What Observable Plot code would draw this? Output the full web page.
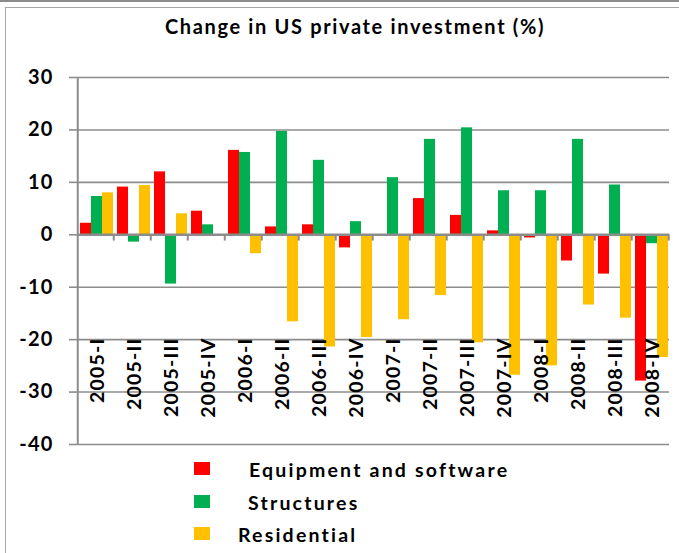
<!DOCTYPE html>
<html>
<head>
<meta charset="utf-8">
<script src="https://cdn.jsdelivr.net/npm/d3@7"></script>
<script src="https://cdn.jsdelivr.net/npm/@observablehq/plot@0.6"></script>
<style>
  html, body { margin: 0; padding: 0; background: #fff; }
  body { width: 679px; height: 553px; position: relative; overflow: hidden; font-family: Lato, "Open Sans", sans-serif; }
  #topbar { position: absolute; left: 0; top: 0; width: 679px; height: 2px; background: #8c8c8c; }
  #box { position: absolute; left: 5px; top: 7px; width: 720px; height: 600px; border: 1.5px solid #a6a6a6; }
  #title { position: absolute; left: 0; width: 710px; top: 14px; text-align: center; font-weight: bold; font-size: 20px; letter-spacing: 1.65px; color: #000; }
  #chart { position: absolute; left: 0; top: 60px; }
  .leg { position: absolute; font-weight: bold; font-size: 19.5px; letter-spacing: 2.2px; color: #000; line-height: 1; }
  .sw { position: absolute; width: 16px; height: 13px; }
</style>
</head>
<body>
<div id="topbar"></div>
<div id="box"></div>
<div id="title">Change in US private investment (%)</div>
<div id="chart"></div>
<div id="legend"></div>
<script>
const quarters = ["2005-I","2005-II","2005-III","2005-IV","2006-I","2006-II","2006-III","2006-IV",
                  "2007-I","2007-II","2007-III","2007-IV","2008-I","2008-II","2008-III","2008-IV"];
const seriesNames = ["Equipment and software", "Structures", "Residential"];
const equipment   = [2.2, 9.1, 12.0, 4.5, 16.1, 1.5, 1.9, -2.5, 0, 6.9, 3.7, 0.75, -0.6, -5.0, -7.5, -27.9];
const structures  = [7.3, -1.4, -9.4, 1.9, 15.7, 19.7, 14.2, 2.5, 10.9, 18.2, 20.4, 8.4, 8.4, 18.2, 9.5, -1.7];
const residential = [8.0, 9.4, 4.0, 0, -3.6, -16.6, -21.4, -19.6, -16.2, -11.6, -20.6, -26.8, -25.0, -13.4, -15.9, -23.4];
const yTicks = [-40, -30, -20, -10, 0, 10, 20, 30];
const colors = ["#FF0000", "#00B050", "#FFC000"];

const seriesValues = [equipment, structures, residential];
const rows = [];
quarters.forEach((q, i) => {
  seriesNames.forEach((s, j) => rows.push({quarter: q, series: s, value: seriesValues[j][i]}));
});

const grid = "#8c8c8c";
const chart = Plot.plot({
  width: 679,
  height: 390,
  marginLeft: 77,
  marginRight: 10,
  marginTop: 17,
  marginBottom: 6,
  style: {fontFamily: "Lato, 'Open Sans', sans-serif", background: "transparent", overflow: "visible"},
  fx: {domain: quarters, padding: 0, axis: null},
  x: {domain: seriesNames, padding: 0, insetLeft: 2.5, axis: null},
  y: {domain: [-40, 30], axis: null},
  color: {domain: seriesNames, range: colors},
  marks: [
    Plot.ruleY(yTicks, {stroke: grid, strokeWidth: 1.6}),
    Plot.barY(rows, {fx: "quarter", x: "series", y: "value", fill: "series"}),
    Plot.ruleY([0], {stroke: grid, strokeWidth: 2.6}),
    // small category separator ticks under the zero line
    Plot.ruleX(quarters, {fx: d => d, x: () => seriesNames[2], y1: 0, y2: -1.2, dx: 5.75, stroke: grid, strokeWidth: 2}),
    // vertical value axis line
    Plot.ruleX([quarters[0]], {fx: d => d, x: () => seriesNames[0], y1: -40, y2: 30, dx: -8.25, stroke: grid, strokeWidth: 2}),
    Plot.axisY(yTicks, {anchor: "left", tickSize: 8, tickPadding: 16, fontSize: 20, fontWeight: "bold",
      stroke: grid, strokeWidth: 1.6, fill: "#000", label: null, tickFormat: d => String(d)}),
    Plot.text(quarters, {fx: d => d, text: d => d, frameAnchor: "bottom", dy: -107, dx: 2,
      rotate: -90, textAnchor: "end", lineAnchor: "middle", fontSize: 19.5, fontWeight: "bold", fill: "#000"})
  ]
});
chart.querySelectorAll("text").forEach(t => t.style.letterSpacing = "1.2px");
document.getElementById("chart").appendChild(chart);

// legend (HTML, below the plot area, within the box)
const legend = document.getElementById("legend");
const swatchTops = [462, 495, 527];
const textLefts = [249, 248, 238];
seriesNames.forEach((s, i) => {
  const sw = document.createElement("div");
  sw.className = "sw";
  sw.style.left = "194px";
  sw.style.top = swatchTops[i] + "px";
  sw.style.background = colors[i];
  legend.appendChild(sw);
  const t = document.createElement("div");
  t.className = "leg";
  t.style.left = textLefts[i] + "px";
  t.style.top = (swatchTops[i] - 2) + "px";
  t.textContent = s;
  legend.appendChild(t);
});
</script>
</body>
</html>
